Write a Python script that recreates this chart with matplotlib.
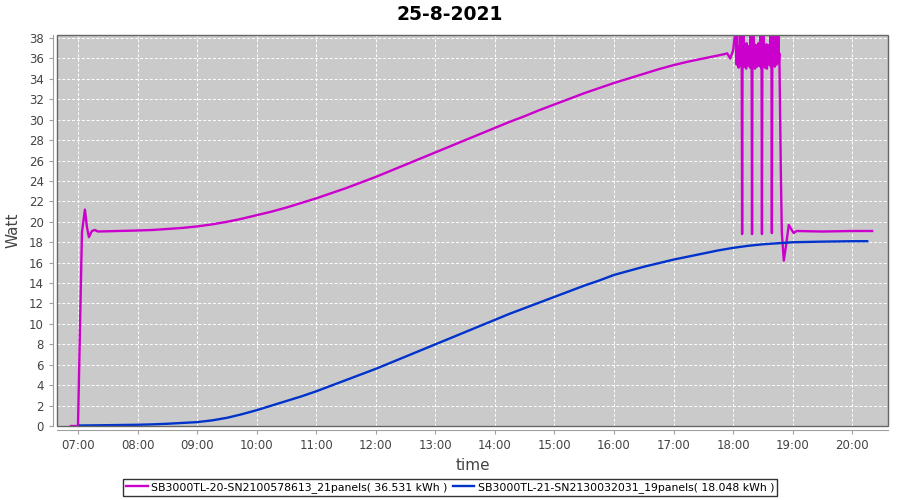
import matplotlib
matplotlib.use('Agg')
import matplotlib.pyplot as plt
import matplotlib.dates as mdates
from matplotlib.patches import Rectangle
import pandas as pd

day = '2021-08-25 '

# inverter 20 (21 panels) - smooth part of the day
sb20_times = ['06:53', '07:00', '07:04', '07:07', '07:09', '07:11', '07:14', '07:17',
              '07:20', '07:40', '08:00', '08:15', '08:30', '08:45', '09:00', '09:15',
              '09:30', '09:45', '10:00', '10:15', '10:30', '10:45', '11:00', '11:15',
              '11:30', '11:45', '12:00', '12:15', '12:30', '12:45', '13:00', '13:15',
              '13:30', '13:45', '14:00', '14:15', '14:30', '14:45', '15:00', '15:15',
              '15:30', '15:45', '16:00', '16:15', '16:30', '16:45', '17:00', '17:15',
              '17:30', '17:45', '17:50', '17:54', '17:57', '18:00', '18:02']
sb20_watt = [0, 0, 19.0, 21.2, 19.5, 18.5, 19.1, 19.2,
             19.05, 19.1, 19.15, 19.2, 19.3, 19.4, 19.55, 19.75,
             20.0, 20.3, 20.65, 21.0, 21.4, 21.85, 22.3, 22.8,
             23.3, 23.85, 24.4, 25.0, 25.6, 26.2, 26.8, 27.4,
             28.0, 28.6, 29.2, 29.8, 30.35, 30.95, 31.5, 32.05,
             32.6, 33.1, 33.6, 34.05, 34.5, 34.95, 35.35, 35.7,
             36.0, 36.3, 36.4, 36.5, 36.0, 36.8, 38.6]

# inverter 20 - unstable stretch, one reading every 30 s from 18:03
sb20_osc_start = '18:03'
sb20_osc_watt = [38.6, 35.4, 38.9, 35.8, 37.2, 35.1, 36.9, 35.6, 37.4, 38.8, 35.3, 38.7,
                 18.8,
                 38.5, 35.6, 38.9, 35.2, 37.3, 35.8, 36.8, 35.0, 37.5, 35.9, 36.7, 35.3,
                 37.2, 35.7, 37.0, 35.1, 38.6, 35.5, 38.8,
                 18.8,
                 38.4, 35.4, 38.9, 35.9, 37.4, 35.0, 36.9, 35.7, 37.3, 35.2, 36.8, 35.8,
                 37.5, 35.3, 37.1, 35.6, 38.7, 35.1, 38.9,
                 18.8,
                 38.6, 35.3, 38.8, 35.8, 37.2, 35.1, 37.0, 35.6, 37.4, 35.0, 36.9, 35.9,
                 37.3, 35.4, 37.1, 35.7, 38.5, 35.2, 38.9,
                 18.9,
                 38.7, 35.5, 38.9, 35.9, 37.3, 35.2, 37.0, 35.7, 38.6, 35.4, 38.9, 36.0,
                 38.7, 35.6, 36.5]

# inverter 20 - evening
sb20_tail_times = ['18:48', '18:49', '18:51', '18:53', '18:56', '18:59', '19:01', '19:04',
                   '19:30', '20:00', '20:20']
sb20_tail_watt = [25.0, 19.0, 16.2, 17.5, 19.7, 19.2, 18.9, 19.1,
                  19.05, 19.1, 19.1]

# inverter 21 (19 panels)
sb21_times = ['07:02', '07:30', '08:00', '08:15', '08:30', '08:45', '09:00', '09:15',
              '09:30', '09:45', '10:00', '10:15', '10:30', '10:45', '11:00', '11:15',
              '11:30', '11:45', '12:00', '12:15', '12:30', '12:45', '13:00', '13:15',
              '13:30', '13:45', '14:00', '14:15', '14:30', '14:45', '15:00', '15:15',
              '15:30', '15:45', '16:00', '16:15', '16:30', '16:45', '17:00', '17:15',
              '17:30', '17:45', '18:00', '18:15', '18:30', '18:45', '19:00', '19:15',
              '19:30', '20:00', '20:15']
sb21_watt = [0.05, 0.08, 0.12, 0.16, 0.22, 0.3, 0.38, 0.55,
             0.8, 1.15, 1.55, 2.0, 2.45, 2.9, 3.4, 3.95,
             4.5, 5.05, 5.6, 6.2, 6.8, 7.4, 8.0, 8.6,
             9.2, 9.8, 10.4, 11.0, 11.55, 12.1, 12.65, 13.2,
             13.75, 14.25, 14.8, 15.2, 15.6, 15.95, 16.3, 16.6,
             16.9, 17.2, 17.45, 17.65, 17.8, 17.9, 18.0, 18.03,
             18.06, 18.1, 18.1]

labels = ['SB3000TL-20-SN2100578613_21panels( 36.531 kWh )',
          'SB3000TL-21-SN2130032031_19panels( 18.048 kWh )']

osc_t = pd.date_range(day + sb20_osc_start, periods=len(sb20_osc_watt), freq='30s')
t20 = pd.to_datetime([day + t for t in sb20_times]).append(osc_t)
t20 = t20.append(pd.to_datetime([day + t for t in sb20_tail_times]))
w20 = sb20_watt + sb20_osc_watt + sb20_tail_watt
t21 = pd.to_datetime([day + t for t in sb21_times])

fig = plt.figure(figsize=(9, 5), dpi=100)
ax = fig.add_axes([0.0633, 0.148, 0.9234, 0.782])
ax.set_facecolor('#cacaca')

ax.plot(t20, w20, color='#cc00cc', lw=1.7, label=labels[0])
ax.plot(t21, sb21_watt, color='#0033cc', lw=1.7, label=labels[1])

ax.set_ylim(0, 38.3)
ax.set_xlim(pd.Timestamp(day + '06:38:50'), pd.Timestamp(day + '20:36:00'))
ax.set_yticks(range(0, 39, 2))
ax.xaxis.set_major_locator(mdates.HourLocator())
ax.xaxis.set_major_formatter(mdates.DateFormatter('%H:%M'))

ax.grid(True, color='white', linestyle=(0, (3, 2)), linewidth=0.7)
ax.set_axisbelow(True)

for side in ['top', 'right']:
    ax.spines[side].set_visible(False)
for side in ['left', 'bottom']:
    ax.spines[side].set_position(('outward', 3))
    ax.spines[side].set_color('#a0a0a0')
    ax.spines[side].set_linewidth(0.8)
ax.add_patch(Rectangle((0, 0), 1, 1, transform=ax.transAxes, fill=False,
                       edgecolor='#666666', lw=1.0, zorder=5, clip_on=False))

ax.tick_params(colors='#a0a0a0', labelcolor='#444444', labelsize=8.5, length=3)
ax.set_ylabel('Watt', fontsize=11, color='#444444', labelpad=6)
ax.set_xlabel('time', fontsize=11, color='#444444', labelpad=4)

fig.suptitle('25-8-2021', fontsize=13.5, fontweight='bold', y=0.99)

leg = fig.legend(loc='center', bbox_to_anchor=(0.5, 0.025), ncol=2, fontsize=7.8,
                 frameon=True, fancybox=False, handlelength=2.0, handletextpad=0.3,
                 columnspacing=0.5, borderpad=0.3)
leg.get_frame().set_edgecolor('black')
leg.get_frame().set_linewidth(1.0)

fig.savefig('out.png', dpi=100)
